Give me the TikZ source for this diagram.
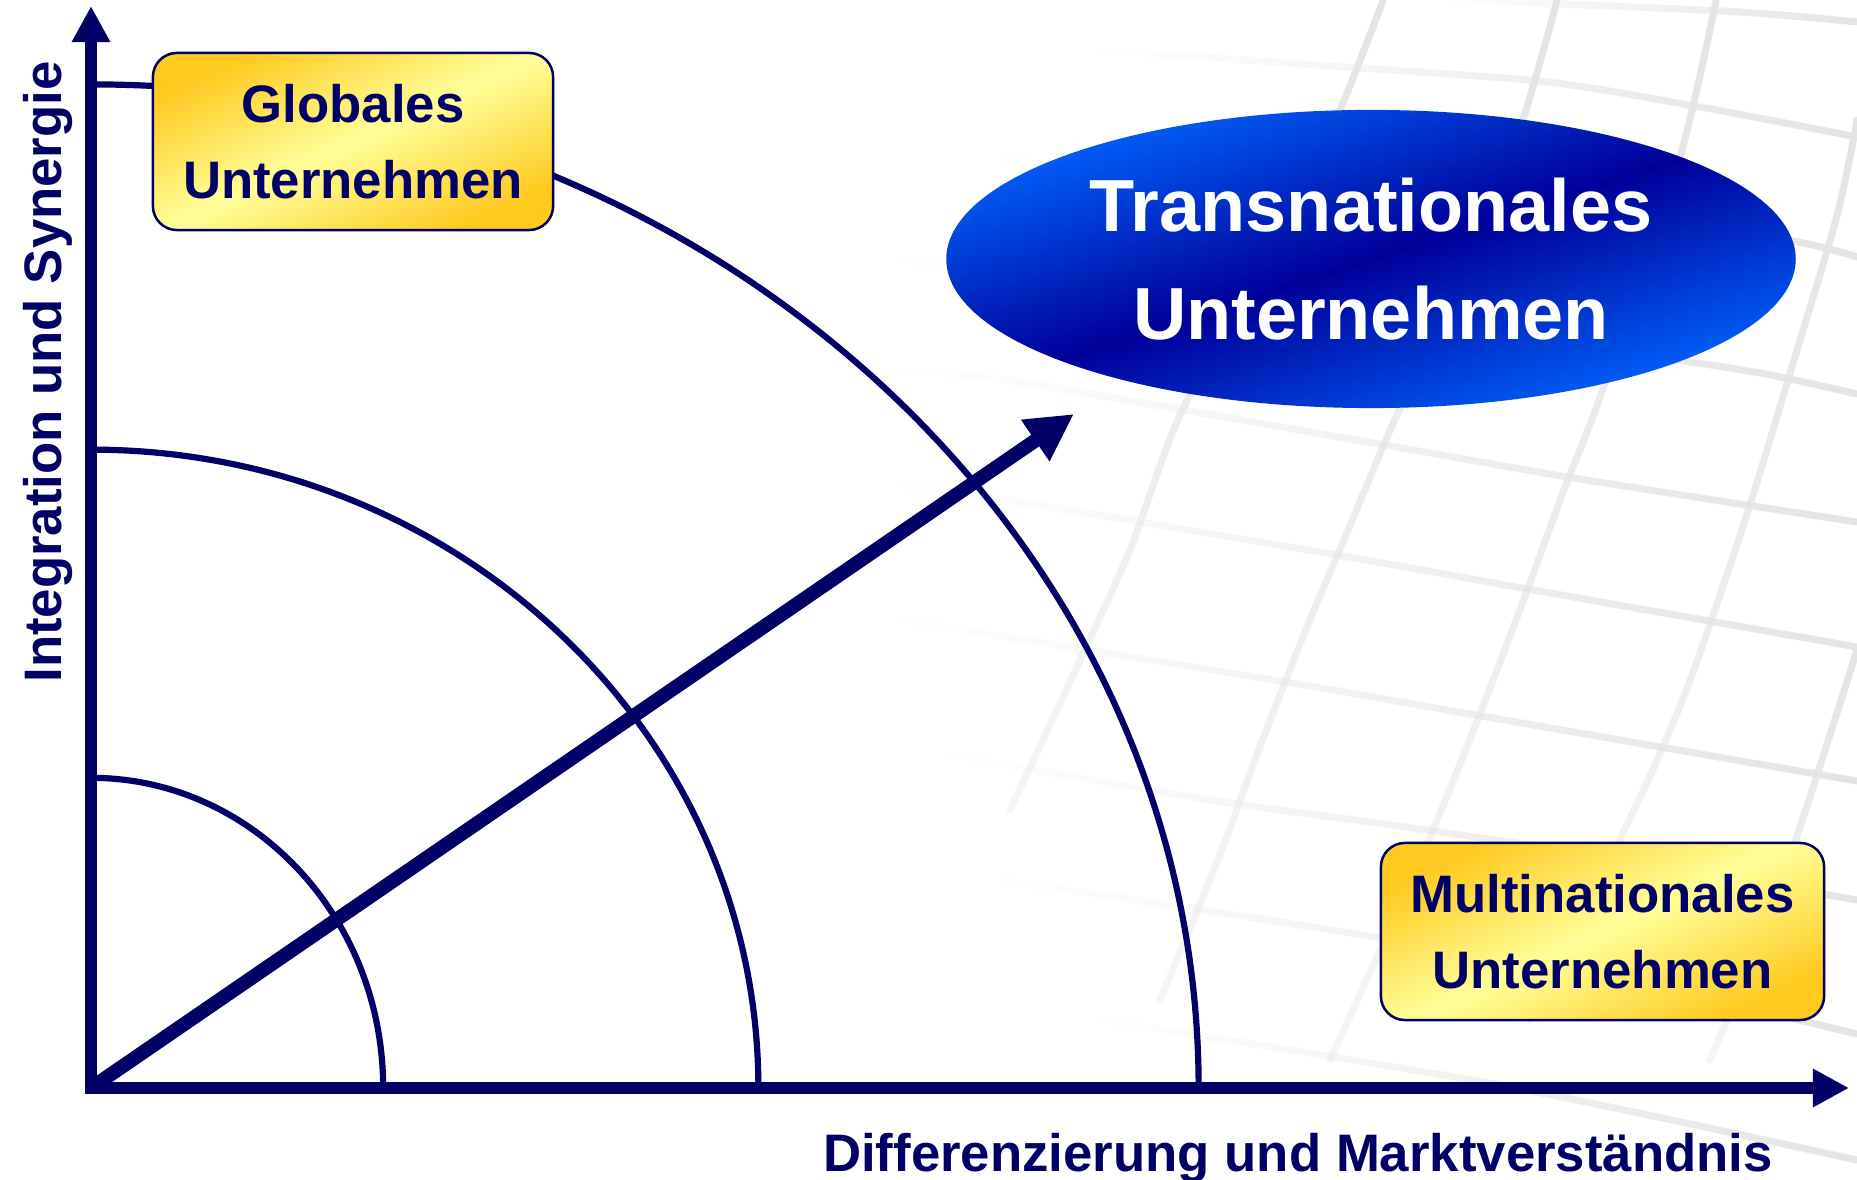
\documentclass[tikz,border=0pt]{standalone}
\usepackage{fontspec}
\setmainfont{Liberation Sans}
\usetikzlibrary{arrows.meta,shapes.geometric,fadings}
\definecolor{navy}{HTML}{000066}
\definecolor{gold}{HTML}{FFC91F}
\definecolor{paleyellow}{HTML}{FFFF99}
\definecolor{brightblue}{HTML}{0066FF}
\definecolor{darkblue}{HTML}{000099}
\definecolor{gridgray}{HTML}{E4E4E4}
\tikzfading[name=fadeleft, left color=transparent!100, right color=transparent!0]
\tikzfading[name=fadedown, top color=transparent!0, bottom color=transparent!65]
\newcommand{\Ring}[2]{
	\draw[ring] ([yshift=#2]O) arc[start angle=90, end angle=0, x radius=#1, y radius=#2];
}

\begin{document}
\begin{tikzpicture}[x=0.01cm, y=-0.01cm,
	gridline/.style={draw=gridgray, line width=0.7mm, line cap=round},
	hgrid/.style={gridline, path fading=fadeleft},
	vgrid/.style={gridline, path fading=fadedown},
	axis/.style={draw=navy, line width=1.15mm, line join=miter},
	ring/.style={draw=navy, line width=0.62mm},
	corpbox/.style={draw=navy, line width=0.25mm, rounded corners=2.4mm,
		top color=gold, bottom color=gold, middle color=paleyellow, shading angle=25,
		text=navy, font=\bfseries\fontsize{15pt}{21.8pt}\selectfont, align=center,
		minimum height=1.77cm, inner sep=0pt},
	corpoval/.style={ellipse, top color=brightblue, bottom color=brightblue,
		middle color=darkblue, shading angle=18, text=white,
		font=\bfseries\fontsize{21pt}{30.7pt}\selectfont, align=center,
		minimum width=8.49cm, minimum height=2.98cm, inner sep=0pt},
	axislabel/.style={text=navy, font=\bfseries\fontsize{15pt}{18pt}\selectfont,
		inner sep=0pt, anchor=base}]
	\useasboundingbox (0,0) rectangle (1857,1180);
	\fill[white] (0,0) rectangle (1857,1180);

	% background grid
	\draw[hgrid] plot[smooth] coordinates {(1450,0) (1722,11) (1857,22)};
	\draw[hgrid] plot[smooth] coordinates {(1100,50) (1328,66) (1547,82) (1711,109) (1857,137)};
	\draw[hgrid] plot[smooth] coordinates {(1000,160) (1300,185) (1600,215) (1787,240) (1857,257)};
	\draw[hgrid] plot[smooth] coordinates {(900,260) (1250,310) (1600,350) (1754,372) (1857,394)};
	\draw[hgrid] plot[smooth] coordinates {(900,370) (1025,383) (1390,446) (1580,479) (1857,522)};
	\draw[hgrid] plot[smooth] coordinates {(900,485) (1025,503) (1343,556) (1528,589) (1857,647)};
	\draw[hgrid] plot[smooth] coordinates {(900,620) (1274,680) (1470,714) (1857,781)};
	\draw[hgrid] plot[smooth] coordinates {(950,755) (1210,800) (1413,828) (1638,862) (1857,900)};
	\draw[hgrid] plot[smooth] coordinates {(1000,880) (1300,925) (1600,975) (1857,1034)};
	\draw[hgrid] plot[smooth] coordinates {(1100,1020) (1500,1085) (1857,1160)};
	\draw[vgrid] plot[smooth] coordinates {(1383,0) (1333,126) (1260,270) (1180,415) (1131,547) (1082,656) (1010,810)};
	\draw[vgrid] plot[smooth] coordinates {(1557,0) (1519,131) (1460,280) (1394,421) (1350,525) (1306,629) (1257,754) (1219,857) (1160,1000)};
	\draw[vgrid] plot[smooth] coordinates {(1716,0) (1678,164) (1601,394) (1563,492) (1525,596) (1481,711) (1437,820) (1380,950) (1330,1060)};
	\draw[vgrid] plot[smooth] coordinates {(1857,120) (1836,219) (1787,383) (1754,492) (1727,574) (1689,683) (1650,776) (1590,900) (1530,1020)};
	\draw[vgrid] plot[smooth] coordinates {(1857,650) (1806,809) (1760,940) (1710,1060)};

	\coordinate (O) at (91,1088);
	\coordinate (Y) at (91,6);
	\coordinate (X) at (1849,1088);
	\coordinate (T) at (1074,414);

	\Ring{2.92cm}{3.10cm}
	\Ring{6.67cm}{6.38cm}
	\Ring{11.07cm}{10.03cm}

	\draw[axis, {Triangle[length=3.6mm, width=3.6mm]}-{Triangle[length=3.6mm, width=3.6mm]}] (Y) -- (O) -- (X);
	\draw[draw=navy, line width=1.4mm, -{Triangle[length=4.7mm, width=4.7mm]}] (O) -- (T);

	\node[corpbox, minimum width=4cm] (glob) at (353,141.5) {Globales\\Unternehmen};
	\node[corpoval] (trans) at (1371,259) {Transnationales\\Unternehmen};
	\node[corpbox, minimum width=4.43cm] (multi) at (1602.5,931.5) {Multinationales\\Unternehmen};

	\node[axislabel, rotate=90] (ylab) at (61,372) {Integration und Synergie};
	\node[axislabel] (xlab) at (1298,1172) {Differenzierung und Marktverständnis};
\end{tikzpicture}
\end{document}
